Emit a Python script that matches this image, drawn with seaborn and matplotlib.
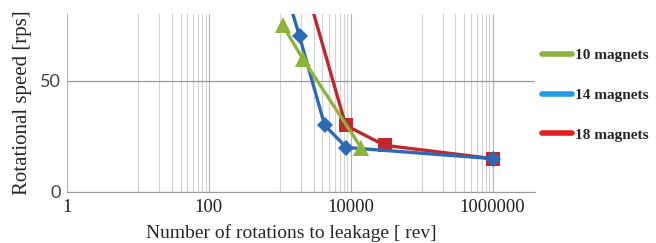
import matplotlib
matplotlib.use("Agg")
import matplotlib.pyplot as plt
from matplotlib.lines import Line2D
import seaborn as sns
import pandas as pd

# --- DATA ---
labels = ["10 magnets", "14 magnets", "18 magnets"]

rev_10 = [1100, 2100, 14000]
rps_10 = [75, 60, 20]

rev_14 = [1000, 1900, 4300, 8700, 1000000]
rps_14 = [100, 70, 30, 20, 15]

rev_18 = [2000, 8500, 30000, 1000000]
rps_18 = [100, 30, 21, 15]

x_ticks = [1, 100, 10000, 1000000]
x_tick_labels = ["1", "100", "10000", "1000000"]
y_ticks = [0, 50]

# --- STYLE ---
sns.set_style("white")
plt.rcParams['font.family'] = ['Liberation Serif', 'DejaVu Serif']

line_colors = {"10 magnets": "#8cb43c", "14 magnets": "#2c69b6", "18 magnets": "#c1272b"}
legend_colors = {"10 magnets": "#8cb43c", "14 magnets": "#1f9de0", "18 magnets": "#e0201f"}
markers = {"10 magnets": "^", "14 magnets": "D", "18 magnets": "s"}
msizes = {"10 magnets": 11, "14 magnets": 8, "18 magnets": 10}

frames = []
for name, xs, ys in [("18 magnets", rev_18, rps_18),
                     ("14 magnets", rev_14, rps_14),
                     ("10 magnets", rev_10, rps_10)]:
    frames.append(pd.DataFrame({"rev": xs, "rps": ys, "series": name}))
df = pd.concat(frames, ignore_index=True)

fig = plt.figure(figsize=(6.56, 2.43), dpi=100)
ax = fig.add_axes([0.102, 0.21, 0.714, 0.732])

# draw order: red under blue, green on top
for name in ["18 magnets", "14 magnets", "10 magnets"]:
    sub = df[df["series"] == name]
    sns.lineplot(data=sub, x="rev", y="rps", ax=ax, color=line_colors[name],
                 linewidth=2.4, marker=markers[name], markersize=msizes[name],
                 markeredgewidth=0, sort=False, estimator=None, legend=False)

ax.set_xscale("log")
ax.set_xlim(1, 4e6)
ax.set_ylim(0, 80)

minor_pos = []
for base in [10, 1000, 100000]:
    minor_pos += [base * k for k in range(1, 10)]
ax.set_xticks(x_ticks)
ax.set_xticklabels(x_tick_labels, fontsize=13.5, color="#222222")
ax.set_xticks(minor_pos, minor=True)
ax.set_xticklabels([], minor=True)
ax.set_yticks(y_ticks)
ax.set_yticklabels([str(v) for v in y_ticks], family="Lato", fontsize=13, color="#404040")

ax.grid(True, which="major", axis="x", color="#b4b4b4", linewidth=0.8)
ax.grid(True, which="minor", axis="x", color="#d2d2d2", linewidth=0.8)
ax.grid(True, which="major", axis="y", color="#9a9a9a", linewidth=0.9)
ax.set_axisbelow(True)

for side in ["top", "right", "left"]:
    ax.spines[side].set_visible(False)
ax.spines["bottom"].set_color("#9a9a9a")
ax.tick_params(axis="x", which="both", length=0, pad=5)
ax.tick_params(axis="y", which="both", length=0, pad=4)

ax.set_xlabel("Number of rotations to leakage [ rev]", fontsize=14)
ax.xaxis.set_label_coords(0.479, -0.18)
ax.set_ylabel("Rotational speed [rps]", fontsize=15, labelpad=6)

handles = [Line2D([0], [0], color=legend_colors[n], linewidth=4) for n in labels]
leg = fig.legend(handles, labels, loc="upper left", bbox_to_anchor=(0.826, 0.80),
                 frameon=False, borderpad=0, borderaxespad=0,
                 handlelength=2.0, handletextpad=0.2,
                 labelspacing=1.7, prop={"weight": "bold", "size": 11})

fig.savefig("out.png", dpi=100)
